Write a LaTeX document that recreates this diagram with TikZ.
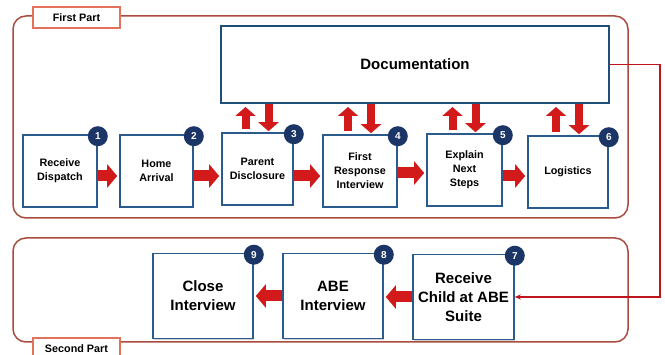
\documentclass[tikz,border=0pt]{standalone}
\usepackage{fontspec}
\setmainfont{Liberation Sans}
\usetikzlibrary{arrows.meta,shadows,calc}

\definecolor{framered}{HTML}{A94B3E}
\definecolor{tabred}{HTML}{E4725A}
\definecolor{boxblue}{HTML}{2B5A8C}
\definecolor{docblue}{HTML}{1F4E79}
\definecolor{numnavy}{HTML}{1B3666}
\definecolor{arrowred}{HTML}{D31A1A}
\definecolor{linkred}{HTML}{C0141C}

\tikzset{
  stepbox/.style={draw=boxblue, line width=1.6pt, fill=white, align=center,
    font=\bfseries\fontsize{10.8}{14}\selectfont, inner sep=2pt,
    minimum height=72pt,
    drop shadow={opacity=0.35, shadow xshift=1.2pt, shadow yshift=-1.2pt}},
  bigbox/.style={stepbox, font=\bfseries\fontsize{15}{19}\selectfont,
    minimum width=100pt, minimum height=85pt},
  numdot/.style={circle, fill=numnavy, text=white,
    font=\bfseries\fontsize{10}{10}\selectfont, minimum size=20pt, inner sep=0pt},
  parttab/.style={draw=tabred, line width=1.2pt, fill=white,
    font=\bfseries\fontsize{10.8}{12}\selectfont, minimum width=87pt, minimum height=21pt,
    drop shadow={opacity=0.4, shadow xshift=1pt, shadow yshift=-1pt}},
  partframe/.style={draw=framered, line width=1.5pt, rounded corners=13pt},
  hflow/.style={arrowred, line width=11pt, -{Triangle[width=23pt,length=10pt]}},
  vflow/.style={arrowred, line width=8pt, -{Triangle[width=20pt,length=9pt]}}
}

\begin{document}
\begin{tikzpicture}[x=1pt,y=-1pt]
  \useasboundingbox (0,0) rectangle (665,355);

  % the two parts
  \draw[partframe] (13,16) rectangle (628,218);
  \draw[partframe] (13,238) rectangle (628,342);
  \node[parttab] (tab1) at (76.5,17.5) {First Part};
  \node[parttab] (tab2) at (76.5,348.5) {Second Part};

  % first part
  \node[stepbox, draw=docblue, line width=2pt, minimum width=388pt, minimum height=77pt,
        font=\bfseries\fontsize{15}{19}\selectfont] (doc) at (415,64.5) {Documentation};

  \node[stepbox, minimum width=74pt] (b1) at (60,171) {Receive\\Dispatch};
  \node[stepbox, minimum width=73pt] (b2) at (156.5,171) {Home\\Arrival};
  \node[stepbox, minimum width=71pt] (b3) at (257.5,169) {Parent\\Disclosure};
  \node[stepbox, minimum width=74pt] (b4) at (360,171) {First\\Response\\Interview};
  \node[stepbox, minimum width=75pt] (b5) at (464.5,170) {Explain\\Next\\Steps};
  \node[stepbox, minimum width=80pt] (b6) at (568,172) {Logistics};

  % second part
  \node[bigbox, minimum width=101pt] (b7) at (463.5,297) {Receive\\Child at ABE\\Suite};
  \node[bigbox] (b8) at (333,296) {ABE\\Interview};
  \node[bigbox] (b9) at (203,296) {Close\\Interview};

  % numbers
  \foreach \n in {1,...,9}
    \node[numdot] (n\n) at ([yshift=-2pt]b\n.north east) {\n};

  % flow between steps
  \draw[hflow, shorten >=2pt] ([yshift=-5pt]b1.east) -- ([yshift=-5pt]b1.east -| b2.west);
  \draw[hflow, shorten >=2pt] ([yshift=-5pt]b2.east) -- ([yshift=-5pt]b2.east -| b3.west);
  \draw[hflow, shorten >=2pt] ([yshift=-7pt]b3.east) -- ([yshift=-7pt]b3.east -| b4.west);
  \draw[hflow, shorten >=2pt] ([yshift=-2pt]b4.east) -- ([yshift=-2pt]b4.east -| b5.west);
  \draw[hflow, shorten >=2pt] ([yshift=-6pt]b5.east) -- ([yshift=-6pt]b5.east -| b6.west);
  \draw[hflow, shorten >=2pt] (b7.west) -- (b7.west -| b8.east);
  \draw[hflow, shorten >=2pt] (b8.west) -- (b8.west -| b9.east);

  % to and from the documentation
  \foreach \b in {b3,b4,b5,b6} {
    \draw[vflow, shorten <=3pt, shorten >=3pt] ($(\b.north)+(-12,0)$) -- ($(\b.north |- doc.south)+(-12,0)$);
    \draw[vflow, shorten >=1pt] ($(\b.north |- doc.south)+(11,0)$) -- ($(\b.north)+(11,0)$);
  }

  % link to the second part
  \coordinate (turn) at (660,66);
  \draw[linkred, line width=1.5pt, -{Stealth[length=6pt,width=5pt]}]
    (doc.east) -- (doc.east -| turn) |- (b7.east);
\end{tikzpicture}
\end{document}
